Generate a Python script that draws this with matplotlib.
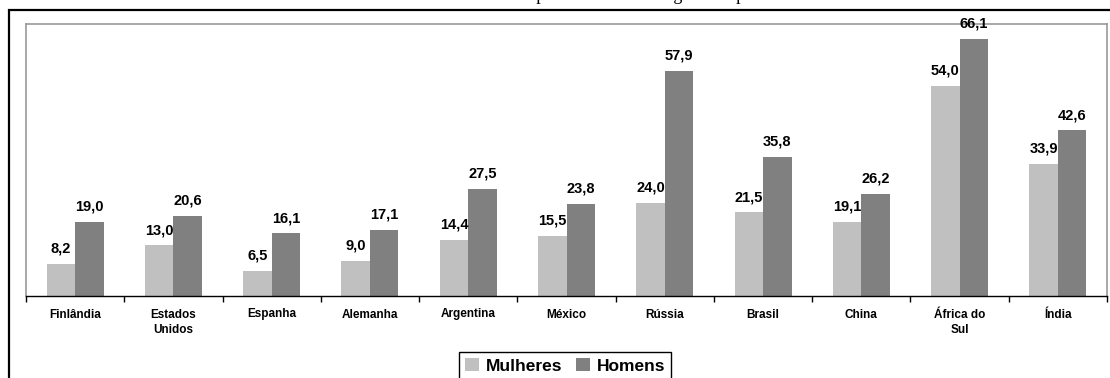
import numpy as np
import matplotlib.pyplot as plt
from matplotlib.patches import Rectangle, Patch

paises = ["Finlândia", "Estados\nUnidos", "Espanha", "Alemanha", "Argentina",
          "México", "Rússia", "Brasil", "China", "África do\nSul", "Índia"]
mulheres = [8.2, 13.0, 6.5, 9.0, 14.4, 15.5, 24.0, 21.5, 19.1, 54.0, 33.9]
homens = [19.0, 20.6, 16.1, 17.1, 27.5, 23.8, 57.9, 35.8, 26.2, 66.1, 42.6]

cor_mulheres = "#C0C0C0"
cor_homens = "#808080"

plt.rcParams["font.family"] = ["Liberation Sans", "DejaVu Sans"]

W, H = 1110, 378
fig = plt.figure(figsize=(W / 100, H / 100), dpi=100)

# moldura externa do gráfico (continua além da borda da imagem)
fig.patches.append(Rectangle((9 / W, -0.1), 1.2, 1.1 - 10 / H, transform=fig.transFigure,
                             fill=False, edgecolor="black", linewidth=1.6))

# título, quase todo acima da área visível
fig.text(575 / W, 1 + 0.5 / H, "Taxa de mortalidade por sexo e idade segundo o país",
         ha="center", va="baseline", fontsize=13, family=["Liberation Serif"])

ax = fig.add_axes([26 / W, 1 - 296 / H, (1107 - 26) / W, (296 - 24) / H])

x = np.arange(len(paises))
larg = 0.29
b1 = ax.bar(x - larg / 2, mulheres, larg, color=cor_mulheres, label="Mulheres")
b2 = ax.bar(x + larg / 2, homens, larg, color=cor_homens, label="Homens")

for barras in (b1, b2):
    for b in barras:
        v = b.get_height()
        ax.annotate(f"{v:.1f}".replace(".", ","), (b.get_x() + b.get_width() / 2, v),
                    xytext=(0, 6), textcoords="offset points", ha="center", va="bottom",
                    fontsize=10.5, fontweight="bold", annotation_clip=False)

ax.set_xlim(-0.5, len(paises) - 0.5)
ax.set_ylim(0, 70)
ax.set_yticks([])

ax.set_xticks(x)
ax.set_xticklabels(paises, fontsize=8.5, fontweight="bold", linespacing=1.4)
ax.tick_params(axis="x", which="major", length=0, pad=9)
ax.set_xticks(np.arange(len(paises) + 1) - 0.5, minor=True)
ax.tick_params(axis="x", which="minor", length=4, width=1, direction="out", color="black")

for lado in ("top", "left", "right"):
    ax.spines[lado].set_color("#999999")
    ax.spines[lado].set_linewidth(1.2)
ax.spines["bottom"].set_color("black")
ax.spines["bottom"].set_linewidth(1.0)

handles = [Patch(facecolor=cor_mulheres, label="Mulheres"),
           Patch(facecolor=cor_homens, label="Homens")]
fig.legend(handles=handles, loc="upper center", bbox_to_anchor=(565 / W, 1 - 352 / H),
           ncol=2, frameon=True, fancybox=False, edgecolor="black", framealpha=1,
           prop={"weight": "bold", "size": 12.5}, handlelength=0.8, handleheight=0.8,
           handletextpad=0.4, columnspacing=0.8, borderpad=0.35, borderaxespad=0)

fig.savefig("out.png", dpi=100)
